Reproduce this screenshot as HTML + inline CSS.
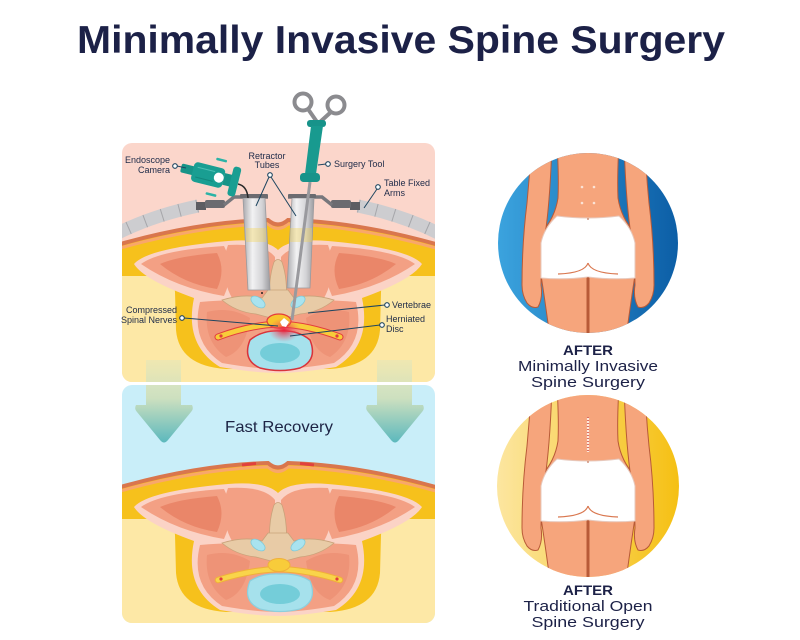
<!DOCTYPE html>
<html><head><meta charset="utf-8">
<style>html,body{margin:0;padding:0;background:#fff;width:800px;height:640px;overflow:hidden}svg{display:block}</style>
</head>
<body>
<svg width="800" height="640" viewBox="0 0 800 640" xmlns="http://www.w3.org/2000/svg" font-family="'Liberation Sans', sans-serif">
<defs>
  <clipPath id="cpTop"><rect x="122" y="143" width="313" height="239" rx="10"/></clipPath>
  <clipPath id="cpBot"><rect x="122" y="385" width="313" height="238" rx="10"/></clipPath>
  <clipPath id="cc1"><circle cx="588" cy="243" r="90"/></clipPath>
  <clipPath id="cc2"><circle cx="588" cy="486" r="91"/></clipPath>
  <linearGradient id="arrowG" gradientUnits="userSpaceOnUse" x1="0" y1="360" x2="0" y2="445">
    <stop offset="0" stop-color="#e9e7b6" stop-opacity="0.7"/>
    <stop offset="0.45" stop-color="#cde0bf"/>
    <stop offset="1" stop-color="#55b6bd"/>
  </linearGradient>
  <linearGradient id="blueC" x1="0" y1="0" x2="1" y2="0">
    <stop offset="0" stop-color="#3ba3de"/>
    <stop offset="1" stop-color="#0c5ea6"/>
  </linearGradient>
  <linearGradient id="yelC" x1="0" y1="0" x2="1" y2="0">
    <stop offset="0" stop-color="#fce6a0"/>
    <stop offset="1" stop-color="#f5c013"/>
  </linearGradient>
  <linearGradient id="tubeG" x1="0" y1="0" x2="1" y2="0">
    <stop offset="0" stop-color="#a9a9ad"/>
    <stop offset="0.35" stop-color="#f2f2f3"/>
    <stop offset="0.7" stop-color="#d4d4d7"/>
    <stop offset="1" stop-color="#9c9ca0"/>
  </linearGradient>
  <radialGradient id="glow" cx="0.5" cy="0.5" r="0.5">
    <stop offset="0" stop-color="#e8203a" stop-opacity="0.95"/>
    <stop offset="1" stop-color="#f05a6a" stop-opacity="0"/>
  </radialGradient>

  <g id="cs">
    <path d="M110,247 Q195,222 268,220 Q278,229 288,220 Q361,222 446,247 L446,420 L110,420 Z" fill="#fde8a6"/>
    <path d="M110,247 Q195,222 268,220 Q278,229 288,220 Q361,222 446,247 L446,276 L395,276 Q382,277 381,292 L380,330 Q377,366 330,369 L226,369 Q179,366 176,330 L175,292 Q174,277 161,276 L110,276 Z" fill="#f6c11c"/>
    <path d="M110,251 Q195,226 268,224 Q278,233 288,224 Q361,226 446,251" fill="none" stroke="#f9a76a" stroke-width="3"/>
    <path d="M110,247 Q195,222 268,220 Q278,229 288,220 Q361,222 446,247" fill="none" stroke="#d9764d" stroke-width="4"/>
    <path d="M134,264 Q148,248 228,241 Q266,238 278,250 Q290,238 328,241 Q408,248 422,264 Q412,280 362,298 Q372,345 336,367 Q300,373 278,373 Q256,373 220,367 Q184,345 194,298 Q144,280 134,264 Z" fill="#fbd3c6"/>
    <path d="M141,264 Q160,250 224,246 Q236,270 224,296 Q176,288 141,264 Z" fill="#f3a084"/>
    <path d="M160,264 Q178,256 217,253 Q226,270 217,289 Q184,284 160,264 Z" fill="#ea8669"/>
    <path d="M415,264 Q396,250 332,246 Q320,270 332,296 Q380,288 415,264 Z" fill="#f3a084"/>
    <path d="M396,264 Q378,256 339,253 Q330,270 339,289 Q372,284 396,264 Z" fill="#ea8669"/>
    <path d="M228,245 Q264,243 275,257 L275,298 Q252,302 232,298 Q218,272 228,245 Z" fill="#f3a084"/>
    <path d="M328,245 Q292,243 281,257 L281,298 Q304,302 324,298 Q338,272 328,245 Z" fill="#f3a084"/>
    <path d="M200,302 Q240,298 278,303 Q316,298 356,302 Q366,342 334,363 Q300,369 278,369 Q256,369 222,363 Q190,342 200,302 Z" fill="#f3a084"/>
    <path d="M207,312 Q230,306 250,318 Q246,350 226,357 Q204,342 207,312 Z" fill="#ee9377"/>
    <path d="M349,312 Q326,306 306,318 Q310,350 330,357 Q352,342 349,312 Z" fill="#ee9377"/>
    <path d="M270,302 Q268,280 274,262 Q278,257 282,262 Q288,280 286,302 Z" fill="#e8cba6" stroke="#c9a27a" stroke-width="0.8"/>
    <path d="M222,300 Q245,293 262,298 L268,290 L288,290 L294,298 Q311,293 334,300 Q320,312 300,314 L285,318 L271,318 L256,314 Q236,312 222,300 Z" fill="#e8cba6" stroke="#c9a27a" stroke-width="0.8"/>
    <ellipse cx="258" cy="302" rx="8" ry="4.5" transform="rotate(35 258 302)" fill="#a9e3ef" stroke="#7fcad9" stroke-width="0.8"/>
    <ellipse cx="298" cy="302" rx="8" ry="4.5" transform="rotate(-35 298 302)" fill="#a9e3ef" stroke="#7fcad9" stroke-width="0.8"/>
  </g>
</defs>

<text x="77" y="53" font-size="39" font-weight="bold" fill="#1c2147" textLength="648" lengthAdjust="spacingAndGlyphs">Minimally Invasive Spine Surgery</text>

<g clip-path="url(#cpTop)">
  <rect x="122" y="143" width="313" height="239" fill="#fbd6cb"/>
  <use href="#cs"/>
  <path d="M112,236 Q150,216 198,206" fill="none" stroke="#cdcdd0" stroke-width="13"/>
  <path d="M112,236 Q150,216 198,206" fill="none" stroke="#a6a6aa" stroke-width="13" stroke-dasharray="1 17"/>
  <path d="M444,236 Q406,216 358,206" fill="none" stroke="#cdcdd0" stroke-width="13"/>
  <path d="M444,236 Q406,216 358,206" fill="none" stroke="#a6a6aa" stroke-width="13" stroke-dasharray="1 17"/>
  <path d="M218,337 Q250,325 279,324 Q308,325 340,337" fill="none" stroke="#e23d3d" stroke-width="7" stroke-linecap="round"/>
  <path d="M218,337 Q250,325 279,324 Q308,325 340,337" fill="none" stroke="#f8cc3a" stroke-width="5" stroke-linecap="round"/>
  <circle cx="221" cy="336" r="1.6" fill="#e23d3d"/>
  <circle cx="337" cy="336" r="1.6" fill="#e23d3d"/>
  <ellipse cx="279" cy="321" rx="12" ry="7" fill="#f8c52c" stroke="#e53b3b" stroke-width="1.2"/>
  <path d="M250,340 Q262,330 280,331 Q298,330 310,340 Q318,360 300,368 Q280,373 260,368 Q242,360 250,340 Z" fill="#a6e1ec" stroke="#d8333b" stroke-width="1.5"/>
  <ellipse cx="280" cy="353" rx="20" ry="10" fill="#74cdd9"/>
  <ellipse cx="284" cy="330" rx="16" ry="12" fill="url(#glow)"/>
  <path d="M280,322 L284,318 L289,322 L286,327 L282,326 Z" fill="#fff"/>
</g>

<g clip-path="url(#cpBot)">
  <rect x="122" y="385" width="313" height="238" fill="#c9eef9"/>
  <g transform="translate(0,243)">
    <use href="#cs"/>
    <path d="M242,222 L256,220.5" stroke="#e0413d" stroke-width="3"/>
    <path d="M300,220.5 L314,222" stroke="#e0413d" stroke-width="3"/>
    <path d="M218,337 Q250,327 279,326 Q308,327 340,337" fill="none" stroke="#f0b03a" stroke-width="6.5" stroke-linecap="round"/>
    <path d="M218,337 Q250,327 279,326 Q308,327 340,337" fill="none" stroke="#f9d44a" stroke-width="4.5" stroke-linecap="round"/>
    <circle cx="221" cy="336" r="1.6" fill="#e23d3d"/>
    <circle cx="337" cy="336" r="1.6" fill="#e23d3d"/>
    <ellipse cx="279" cy="322" rx="11" ry="6.5" fill="#f8cc3a" stroke="#f0b03a" stroke-width="1"/>
    <path d="M250,338 Q262,330 280,331 Q298,330 310,338 Q318,358 300,366 Q280,371 260,366 Q242,358 250,338 Z" fill="#a6e1ec" stroke="#8ccfdd" stroke-width="1.2"/>
    <ellipse cx="280" cy="351" rx="20" ry="10" fill="#74cdd9"/>
  </g>
</g>

<path d="M146,360 L181,360 L181,405 L192,405 Q194,409 191,412 L168,440 Q164,445 160,440 L137,412 Q134,409 136,405 L146,405 Z" fill="url(#arrowG)"/>
<path d="M146,360 L181,360 L181,405 L192,405 Q194,409 191,412 L168,440 Q164,445 160,440 L137,412 Q134,409 136,405 L146,405 Z" fill="url(#arrowG)" transform="translate(231,0)"/>
<rect x="122" y="382" width="313" height="3" fill="#fff"/>

<text x="225" y="432" font-size="16" fill="#1d2445" textLength="108" lengthAdjust="spacingAndGlyphs">Fast Recovery</text>

<g>
  <rect x="196" y="202" width="10" height="8" fill="#5d5d62"/>
  <rect x="205" y="200" width="20" height="8" rx="2" fill="#6b6b70"/>
  <path d="M224,205 L234,197 L268,197" fill="none" stroke="#77777c" stroke-width="3.5"/>
  <rect x="350" y="202" width="10" height="8" fill="#5d5d62"/>
  <rect x="331" y="200" width="20" height="8" rx="2" fill="#6b6b70"/>
  <path d="M332,205 L322,197 L288,197" fill="none" stroke="#77777c" stroke-width="3.5"/>
</g>
<path d="M243,198 L265,198 L270,290 L248,290 Z" fill="url(#tubeG)" stroke="#9a9a9e" stroke-width="0.8"/>
<path d="M292,198 L314,198 L310,288 L287,288 Z" fill="url(#tubeG)" stroke="#9a9a9e" stroke-width="0.8"/>
<rect x="246" y="228" width="20" height="14" fill="#f6d44a" opacity="0.35"/>
<rect x="290" y="228" width="22" height="14" fill="#f6d44a" opacity="0.35"/>
<rect x="240" y="194" width="28" height="4" rx="1" fill="#6b6b70"/>
<rect x="288" y="194" width="28" height="4" rx="1" fill="#6b6b70"/>
<circle cx="262" cy="293" r="1" fill="#222"/>
<line x1="310" y1="182" x2="292" y2="320" stroke="#9a9a9e" stroke-width="3"/>
<circle cx="303" cy="102" r="8.5" fill="none" stroke="#8b8b8f" stroke-width="4"/>
<circle cx="336" cy="105" r="8.5" fill="none" stroke="#8b8b8f" stroke-width="4"/>
<path d="M308,109 L317,122 M331,112 L320,122" stroke="#8b8b8f" stroke-width="4" fill="none"/>
<rect x="307" y="120" width="19" height="7" rx="3" fill="#17938a"/>
<path d="M311,126 L323,126 L316,174 L305,174 Z" fill="#189a8f"/>
<rect x="300" y="173" width="20" height="9" rx="3.5" fill="#17938a"/>
<path d="M238,184 Q247,186 248,198" fill="none" stroke="#2a2a2a" stroke-width="1.5"/>
<g transform="rotate(14 212 176)">
  <rect x="180" y="171" width="14" height="9" rx="2" fill="#169488"/>
  <rect x="192" y="166" width="32" height="20" rx="4" fill="#199e92"/>
  <line x1="196" y1="171" x2="214" y2="171" stroke="#4cc0b4" stroke-width="1"/>
  <line x1="196" y1="181" x2="214" y2="181" stroke="#12887d" stroke-width="1"/>
  <circle cx="219" cy="176" r="5" fill="#fff"/>
  <rect x="224" y="170" width="8" height="12" fill="#169488"/>
  <rect x="231" y="161" width="8" height="30" rx="3" fill="#199e92"/>
  <rect x="212" y="157" width="11" height="2.5" rx="1" fill="#2bb3a6"/>
  <rect x="210" y="193" width="11" height="2.5" rx="1" fill="#2bb3a6"/>
</g>

<g stroke="#1f4660" stroke-width="1" fill="none">
  <line x1="177" y1="166" x2="186" y2="168"/>
  <line x1="269" y1="177" x2="256" y2="206"/>
  <line x1="271" y1="177" x2="296" y2="216"/>
  <line x1="326" y1="164" x2="318" y2="165"/>
  <line x1="377" y1="189" x2="364" y2="208"/>
  <line x1="184" y1="318" x2="278" y2="326"/>
  <line x1="385" y1="305" x2="308" y2="313"/>
  <line x1="380" y1="325" x2="290" y2="336"/>
</g>
<g fill="#fff" stroke="#1f4660" stroke-width="1.1">
  <circle cx="175" cy="166" r="2.3"/>
  <circle cx="270" cy="175" r="2.3"/>
  <circle cx="328" cy="164" r="2.3"/>
  <circle cx="378" cy="187" r="2.3"/>
  <circle cx="182" cy="318" r="2.3"/>
  <circle cx="387" cy="305" r="2.3"/>
  <circle cx="382" cy="325" r="2.3"/>
</g>
<g font-size="9" fill="#1d2a48">
  <text x="170" y="163" text-anchor="end">Endoscope</text>
  <text x="170" y="173" text-anchor="end">Camera</text>
  <text x="267" y="159" text-anchor="middle">Retractor</text>
  <text x="267" y="168" text-anchor="middle">Tubes</text>
  <text x="334" y="167">Surgery Tool</text>
  <text x="384" y="186">Table Fixed</text>
  <text x="384" y="196">Arms</text>
  <text x="177" y="313" text-anchor="end">Compressed</text>
  <text x="177" y="323" text-anchor="end">Spinal Nerves</text>
  <text x="392" y="308">Vertebrae</text>
  <text x="386" y="322">Herniated</text>
  <text x="386" y="332">Disc</text>
</g>

<defs>
  <g id="body" stroke="#b85a37" stroke-width="1" stroke-linejoin="round">
    <path d="M-47,32 L-1,32 L-1,110 L-36,110 Q-42,64 -47,32 Z" fill="#f6a57c"/>
    <path d="M47,32 L1,32 L1,110 L36,110 Q42,64 47,32 Z" fill="#f6a57c"/>
    <path d="M-31,-100 L31,-100 Q29,-65 30,-45 Q33,-25 47,-10 L47,5 L-47,5 L-47,-10 Q-33,-25 -30,-45 Q-29,-65 -31,-100 Z" fill="#f6a57c"/>
    <path d="M-57,-100 L-36,-100 Q-38,-40 -43,-8 Q-47,20 -47,42 Q-45,55 -50,64 Q-56,66 -61,60 Q-66,52 -66,42 Q-66,0 -61,-40 Q-58,-70 -57,-100 Z" fill="#f6a57c"/>
    <path d="M57,-100 L36,-100 Q38,-40 43,-8 Q47,20 47,42 Q45,55 50,64 Q56,66 61,60 Q66,52 66,42 Q66,0 61,-40 Q58,-70 57,-100 Z" fill="#f6a57c"/>
    <path d="M-31,-27 Q0,-23 31,-27 Q44,-15 47,0 L47,35 Q24,37 0,34 Q-24,37 -47,35 L-47,0 Q-44,-15 -31,-27 Z" fill="#fff" stroke="#e7c9bd"/>
    <path d="M0,20 Q-3,30 -30,31 M0,20 Q3,30 30,31" fill="none" stroke="#d9774f" stroke-width="1.2"/>
    <line x1="0" y1="34" x2="0" y2="110" stroke="#b85a37" stroke-width="1"/>
    <circle cx="0" cy="-24" r="0.8" fill="#b85a37" stroke="none"/>
  </g>
</defs>

<circle cx="588" cy="243" r="90" fill="url(#blueC)"/>
<g clip-path="url(#cc1)">
  <use href="#body" transform="translate(588,243)"/>
  <g fill="#fbe3d6">
    <circle cx="582" cy="187" r="1.3"/><circle cx="594" cy="187" r="1.3"/>
    <circle cx="582" cy="203" r="1.3"/><circle cx="594" cy="203" r="1.3"/>
  </g>
</g>

<circle cx="588" cy="486" r="91" fill="url(#yelC)"/>
<g clip-path="url(#cc2)">
  <use href="#body" transform="translate(588,486)"/>
  <line x1="588" y1="417" x2="588" y2="452" stroke="#fde9dd" stroke-width="2.2"/>
  <line x1="588" y1="417" x2="588" y2="452" stroke="#d0483d" stroke-width="2.2" stroke-dasharray="0.8 2.2"/>
</g>

<g fill="#1c2147" text-anchor="middle">
  <text x="588" y="355" font-size="14" font-weight="bold" textLength="50" lengthAdjust="spacingAndGlyphs">AFTER</text>
  <text x="588" y="371" font-size="15" textLength="140" lengthAdjust="spacingAndGlyphs">Minimally Invasive</text>
  <text x="588" y="387" font-size="15" textLength="114" lengthAdjust="spacingAndGlyphs">Spine Surgery</text>
  <text x="588" y="595" font-size="14" font-weight="bold" textLength="50" lengthAdjust="spacingAndGlyphs">AFTER</text>
  <text x="588" y="611" font-size="15" textLength="129" lengthAdjust="spacingAndGlyphs">Traditional Open</text>
  <text x="588" y="627" font-size="15" textLength="113" lengthAdjust="spacingAndGlyphs">Spine Surgery</text>
</g>
</svg>
</body></html>
